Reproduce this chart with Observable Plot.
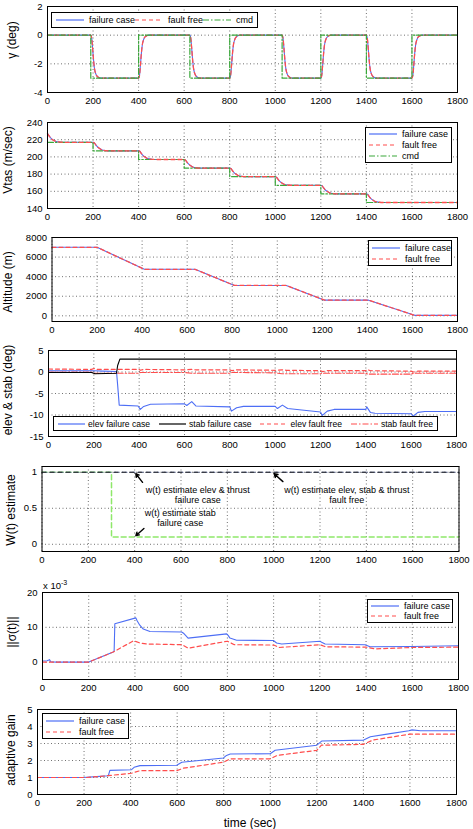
<!DOCTYPE html>
<html><head><meta charset="utf-8">
<script src="https://cdn.jsdelivr.net/npm/d3@7"></script>
<script src="https://cdn.jsdelivr.net/npm/@observablehq/plot@0.6"></script>
<style>
body{margin:0;background:#fff;font-family:"Liberation Sans",Arial,sans-serif;}
#root{position:relative;width:473px;height:829px;overflow:hidden;}
.ylab{position:absolute;white-space:nowrap;font-size:12px;transform:translate(-50%,-50%) rotate(-90deg);color:#000;}
.leg{position:absolute;box-sizing:border-box;border:1px solid #000;background:#fff;display:flex;font-size:9px;color:#000;}
.leg .it{display:flex;align-items:center;white-space:nowrap;}
.leg svg{flex:none;}
</style>
</head><body><div id="root"></div>
<script>
// ---------- DATA ----------
const xTicks = [0,200,400,600,800,1000,1200,1400,1600,1800];

// Panel 1: flight path angle gamma (deg)
const gammaCmd = [[0,0],[190,0],[190,-3],[400,-3],[400,0],[625,0],[625,-3],[800,-3],[800,0],[1030,0],[1030,-3],[1200,-3],[1200,0],[1400,0],[1400,-3],[1600,-3],[1600,0],[1800,0]];
const gammaFail = [[0,0],[190,0],[194,-0.2],[198,-0.9],[202,-1.7],[206,-2.3],[212,-2.7],[220,-2.9],[235,-3],
 [400,-3],[404,-2.8],[408,-2.1],[412,-1.3],[416,-0.7],[422,-0.3],[430,-0.1],[445,0],
 [625,0],[629,-0.2],[633,-0.9],[637,-1.7],[641,-2.3],[647,-2.7],[655,-2.9],[670,-3],
 [800,-3],[804,-2.8],[808,-2.1],[812,-1.3],[816,-0.7],[822,-0.3],[830,-0.1],[845,0],
 [1030,0],[1034,-0.2],[1038,-0.9],[1042,-1.7],[1046,-2.3],[1052,-2.7],[1060,-2.9],[1075,-3],
 [1200,-3],[1204,-2.8],[1208,-2.1],[1212,-1.3],[1216,-0.7],[1222,-0.3],[1230,-0.1],[1245,0],
 [1400,0],[1404,-0.2],[1408,-0.9],[1412,-1.7],[1416,-2.3],[1422,-2.7],[1430,-2.9],[1445,-3],
 [1600,-3],[1604,-2.8],[1608,-2.1],[1612,-1.3],[1616,-0.7],[1622,-0.3],[1630,-0.1],[1645,0],[1800,0]];
const gammaFree = gammaFail;
const gammaTicks = [-4,-2,0,2];

// Panel 2: Vtas (m/sec)
const vtasCmd = [[0,217],[200,217],[200,207],[400,207],[400,197],[600,197],[600,187],[800,187],[800,177],[1000,177],[1000,167],[1200,167],[1200,157],[1400,157],[1400,147],[1800,147]];
const vtasFail = [[0,227],[8,224],[16,221.5],[25,219.5],[35,218.3],[50,217.4],[70,217],[200,217],
 [205,216.5],[212,214],[220,211.5],[230,209.5],[240,208],[255,207.3],[275,207],[400,207],
 [405,206.5],[412,204],[420,201.5],[430,199.5],[440,198],[455,197.3],[475,197],[600,197],
 [605,196.5],[612,194],[620,191.5],[630,189.5],[640,188],[655,187.3],[675,187],[800,187],
 [805,186.5],[812,184],[820,181.5],[830,179.5],[840,178],[855,177.3],[875,177],[1000,177],
 [1005,176.5],[1012,174],[1020,171.5],[1030,169.5],[1040,168],[1055,167.3],[1075,167],[1200,167],
 [1205,166.5],[1212,164],[1220,161.5],[1230,159.5],[1240,158],[1255,157.3],[1275,157],[1400,157],
 [1405,156.5],[1412,154],[1420,151.5],[1430,149.5],[1440,148],[1455,147.3],[1475,147],[1800,147]];
const vtasFree = vtasFail;
const vtasTicks = [140,160,180,200,220,240];

// Panel 3: Altitude (m)
const altFail = [[0,7000],[200,7000],[410,4750],[635,4750],[810,3100],[1040,3100],[1210,1600],[1405,1600],[1610,50],[1800,50]];
const altFree = altFail;
const altTicks = [0,2000,4000,6000,8000];

// Panel 4: elev & stab (deg)
const elevFail = [[0,0.3],[200,0.3],[240,0.2],[300,0.1],[305,-3],[312,-7.7],[395,-7.9],[405,-8.7],[420,-8],[450,-7.5],[600,-7.4],[610,-7.8],[632,-6.9],[650,-7.9],[800,-8.1],[807,-9.1],[830,-8.3],[860,-8],[1000,-8],[1010,-8.5],[1032,-7.7],[1055,-8.5],[1200,-9.3],[1208,-10.1],[1230,-9.1],[1260,-8.7],[1400,-8.7],[1404,-8.1],[1420,-9.4],[1440,-9.6],[1600,-9.7],[1608,-10.3],[1630,-9.4],[1660,-9.2],[1800,-9.2]];
const stabFail = [[0,-0.1],[190,-0.1],[205,-0.4],[300,-0.3],[305,1.5],[315,3],[1800,3]];
const elevFree = [[0,0.7],[190,0.6],[200,0.8],[215,0.6],[400,0.6],[405,0.4],[420,0.6],[600,0.5],[630,0.6],[650,0.5],[800,0.5],[810,0.3],[830,0.5],[1000,0.4],[1030,0.5],[1050,0.4],[1200,0.3],[1210,0.1],[1230,0.3],[1400,0.3],[1405,0.6],[1420,0.3],[1600,0.2],[1610,0],[1630,0.2],[1800,0.2]];
const stabFree = [[0,0],[190,0],[200,-0.3],[400,-0.3],[405,-0.1],[600,-0.1],[630,-0.3],[800,-0.3],[810,-0.1],[1000,-0.2],[1030,-0.4],[1200,-0.4],[1210,-0.3],[1400,-0.3],[1410,-0.5],[1600,-0.5],[1610,-0.3],[1800,-0.3]];
const elevTicks = [-15,-10,-5,0,5];

// Panel 5: W(t) estimate
const wFailElevThrust = [[0,1],[1800,1]];
const wFailStab = [[0,1],[300,1],[300,0.1],[1800,0.1]];
const wFree = [[0,1],[1800,1]];
const wTicks = [0,0.5,1];
const wNotes = [
  {t:672, v:0.69, label:"w(t) estimate elev & thrust\nfailure case"},
  {t:1316, v:0.69, label:"w(t) estimate elev, stab & thrust\nfault free"},
  {t:597, v:0.37, label:"w(t) estimate stab\nfailure case"}];
const wArrows = [
  {t1:434, v1:0.86, t2:405, v2:0.98},
  {t1:1040, v1:0.87, t2:1002, v2:0.98},
  {t1:440, v1:0.22, t2:405, v2:0.12}];

// Panel 6: ||sigma(t)|| (x 10^-3)
const sigmaFail = [[0,0.3],[20,0.4],[30,0.7],[36,0.1],[60,0],[200,0],[306,2.9],[310,3.2],[313,11],[404,12.7],[410,11.8],[421,10.6],[436,9.5],[465,8.8],[602,8.65],[612,8.2],[630,6.9],[797,8.1],[804,7.6],[811,6.9],[840,6.3],[999,6.2],[1013,5.5],[1035,5.2],[1201,6],[1210,5.6],[1223,5.2],[1396,5],[1417,4.4],[1600,4.5],[1800,4.7]];
const sigmaFree = [[0,0],[200,0],[306,2.9],[393,6.1],[400,6.0],[421,5.5],[450,5.2],[605,5.0],[630,4.0],[800,6.0],[830,5.0],[1000,4.9],[1025,4.2],[1200,5.0],[1225,4.4],[1400,4.3],[1440,3.8],[1600,4.2],[1800,4.3]];
const sigmaTicks = [0,10,20];

// Panel 7: adaptive gain
const gainFail = [[0,1],[197,1],[254,1.05],[304,1.1],[311,1.42],[404,1.46],[415,1.6],[440,1.7],[598,1.72],[620,1.9],[799,2.15],[812,2.3],[828,2.38],[1000,2.4],[1021,2.6],[1200,2.9],[1222,3.15],[1401,3.2],[1430,3.4],[1502,3.55],[1595,3.75],[1609,3.8],[1645,3.75],[1800,3.75]];
const gainFree = [[0,1],[211,1],[297,1.1],[404,1.25],[440,1.4],[598,1.4],[627,1.55],[799,1.9],[828,2.1],[1000,2.1],[1030,2.3],[1200,2.6],[1220,2.9],[1400,2.95],[1440,3.2],[1600,3.55],[1800,3.55]];
const gainTicks = [0,1,2,3,4,5];

// ---------- STYLE ----------
const BLUE = "#4d6ef5", RED = "#ff4d4d", GREEN = "#3aa83a", LGREEN = "#8ee86a";
const root = document.getElementById("root");
const fmt = d => String(d);
const X = d => d[0], Y = d => d[1];

function ln(data, stroke, extra={}) {
  return Plot.line(data, {x: X, y: Y, stroke, strokeWidth: 1.1, ...extra});
}

function panel(cfg) {
  const mt = 3, mb = 20;
  const h = cfg.B - cfg.T + mt + mb;
  const grid = {stroke: "#444", strokeOpacity: 0.85, strokeDasharray: "1,2.5", strokeWidth: 0.9};
  const p = Plot.plot({
    width: 473, height: h,
    marginLeft: cfg.L, marginRight: 473 - cfg.R, marginTop: mt, marginBottom: mb,
    x: {domain: [0, 1800]},
    y: {domain: cfg.yDomain},
    style: {fontFamily: '"Liberation Sans", Arial, sans-serif', fontSize: "9.5px", background: "transparent", overflow: "visible", color: "#000"},
    marks: [
      Plot.gridX(xTicks, grid),
      Plot.gridY(cfg.yTicks, grid),
      ...cfg.marks,
      Plot.frame({stroke: "#000", strokeWidth: 1}),
      Plot.axisX(xTicks, {tickSize: 0, tickPadding: 5, label: null, tickFormat: fmt}),
      Plot.axisY(cfg.yTicks, {tickSize: 0, tickPadding: 5, label: null, tickFormat: cfg.fmt || fmt})
    ]
  });
  p.style.position = "absolute";
  p.style.left = "0px";
  p.style.top = (cfg.T - mt) + "px";
  root.append(p);
}

function ylabel(html, cx, cy) {
  const d = document.createElement("div");
  d.className = "ylab";
  d.innerHTML = html;
  d.style.left = cx + "px";
  d.style.top = cy + "px";
  root.append(d);
}

function sample(stroke, dash, w) {
  return `<svg width="${w}" height="6"><line x1="0" y1="3" x2="${w}" y2="3" stroke="${stroke}" stroke-width="1.2" ${dash ? `stroke-dasharray="${dash}"` : ""}/></svg>`;
}

function legend(x, y, w, h, items, dir, opt = {}) {
  const d = document.createElement("div");
  d.className = "leg";
  d.style.left = x + "px"; d.style.top = y + "px";
  d.style.width = w + "px"; d.style.height = h + "px";
  if (opt.fs) d.style.fontSize = opt.fs + "px";
  const sw = opt.sw || 28, gap = opt.gap || 5;
  if (dir === "row") {
    d.style.flexDirection = "row";
    d.style.alignItems = "center";
    d.style.justifyContent = "space-between";
    d.style.padding = "0 " + (opt.pad || 4) + "px";
  } else {
    d.style.flexDirection = "column";
    d.style.justifyContent = "space-around";
    d.style.padding = "1px 3px";
  }
  d.innerHTML = items.map(it => `<span class="it">${sample(it.c, it.d, sw)}<span style="margin-left:${gap}px">${it.t}</span></span>`).join("");
  root.append(d);
}

const DASH = "4,3", DASHDOT = "6,2,1.5,2";

// Panel 1
panel({T: 6, B: 92, L: 47, R: 457, yDomain: [-4, 2], yTicks: gammaTicks, marks: [
  ln(gammaFail, BLUE, {curve: "monotone-x"}),
  ln(gammaFree, RED, {curve: "monotone-x", strokeDasharray: DASH, strokeWidth: 1.3}),
  ln(gammaCmd, GREEN, {strokeDasharray: DASHDOT, strokeWidth: 1.2})
]});
// Panel 2
panel({T: 122, B: 208, L: 47, R: 457, yDomain: [140, 240], yTicks: vtasTicks, marks: [
  ln(vtasFail, BLUE, {curve: "monotone-x"}),
  ln(vtasCmd, GREEN, {strokeDasharray: DASHDOT, strokeWidth: 1.2}),
  ln(vtasFree, RED, {curve: "monotone-x", strokeDasharray: DASH, strokeWidth: 1.3})
]});
// Panel 3
panel({T: 237, B: 321, L: 51.5, R: 457, yDomain: [-580, 8000], yTicks: altTicks, marks: [
  ln(altFail, BLUE),
  ln(altFree, RED, {strokeDasharray: DASH, strokeWidth: 1.3})
]});
// Panel 4
panel({T: 350, B: 436, L: 48, R: 456, yDomain: [-15, 5], yTicks: elevTicks, marks: [
  ln(elevFree, RED, {strokeDasharray: DASH, strokeWidth: 1.2}),
  ln(stabFree, RED, {strokeDasharray: DASHDOT, strokeWidth: 1.1}),
  ln(elevFail, BLUE),
  ln(stabFail, "#000")
]});
// Panel 5
panel({T: 466, B: 551, L: 41.5, R: 458.5, yDomain: [-0.1, 1.08], yTicks: wTicks, marks: [
  ln(wFailStab, LGREEN, {strokeDasharray: "5,3", strokeWidth: 1.5}),
  ln(wFree, "#6a7ab0", {strokeDasharray: "5,3", strokeWidth: 1.1}),
  ln(wFailElevThrust, "#222", {strokeDasharray: "4,4", strokeWidth: 1.1}),
  Plot.arrow(wArrows, {x1: "t1", y1: "v1", x2: "t2", y2: "v2", stroke: "#000", strokeWidth: 1.4, headLength: 7}),
  Plot.text(wNotes, {x: "t", y: "v", text: "label", fontSize: 9, lineHeight: 1.15, fill: "#000"})
]});
// Panel 6
panel({T: 592, B: 679, L: 42, R: 458, yDomain: [-5, 20], yTicks: sigmaTicks, marks: [
  ln(sigmaFail, BLUE),
  ln(sigmaFree, RED, {strokeDasharray: DASH, strokeWidth: 1.2})
]});
// Panel 7
panel({T: 709, B: 794, L: 37, R: 456, yDomain: [0, 5], yTicks: gainTicks, marks: [
  ln(gainFail, BLUE),
  ln(gainFree, RED, {strokeDasharray: DASH, strokeWidth: 1.2})
]});

// Axis labels
ylabel("γ (deg)", 12, 40);
ylabel("Vtas (m/sec)", 8, 160);
ylabel("Altitude (m)", 8, 282);
ylabel("elev &amp; stab (deg)", 8, 390);
ylabel("W(t) estimate", 11, 510);
ylabel("||σ(t)||", 12, 632);
ylabel("adaptive gain", 11, 750);

const xl = document.createElement("div");
xl.style.cssText = "position:absolute;left:250px;top:823px;transform:translate(-50%,-50%);font-size:12px;white-space:nowrap;";
xl.textContent = "time (sec)";
root.append(xl);

const sc = document.createElement("div");
sc.style.cssText = "position:absolute;left:43px;top:579px;font-size:9.5px;white-space:nowrap;";
sc.innerHTML = 'x 10<sup style="font-size:7px;vertical-align:4px">-3</sup>';
root.append(sc);

// Legends
legend(51, 12, 207, 16, [
  {c: BLUE, t: "failure case"}, {c: RED, d: DASH, t: "fault free"}, {c: GREEN, d: DASHDOT, t: "cmd"}], "row");
legend(365, 127, 87, 36, [
  {c: BLUE, t: "failure case"}, {c: RED, d: DASH, t: "fault free"}, {c: GREEN, d: DASHDOT, t: "cmd"}], "col");
legend(368, 240, 84, 26, [
  {c: BLUE, t: "failure case"}, {c: RED, d: DASH, t: "fault free"}], "col");
legend(53, 416, 385, 15, [
  {c: BLUE, t: "elev failure case"}, {c: "#000", t: "stab failure case"},
  {c: RED, d: DASH, t: "elev fault free"}, {c: RED, d: DASHDOT, t: "stab fault free"}], "row",
  {fs: 8.6, sw: 27, gap: 3, pad: 4});
legend(367, 599, 86, 24, [
  {c: BLUE, t: "failure case"}, {c: RED, d: DASH, t: "fault free"}], "col");
legend(42, 713, 87, 26, [
  {c: BLUE, t: "failure case"}, {c: RED, d: DASH, t: "fault free"}], "col");
</script>
</body></html>
